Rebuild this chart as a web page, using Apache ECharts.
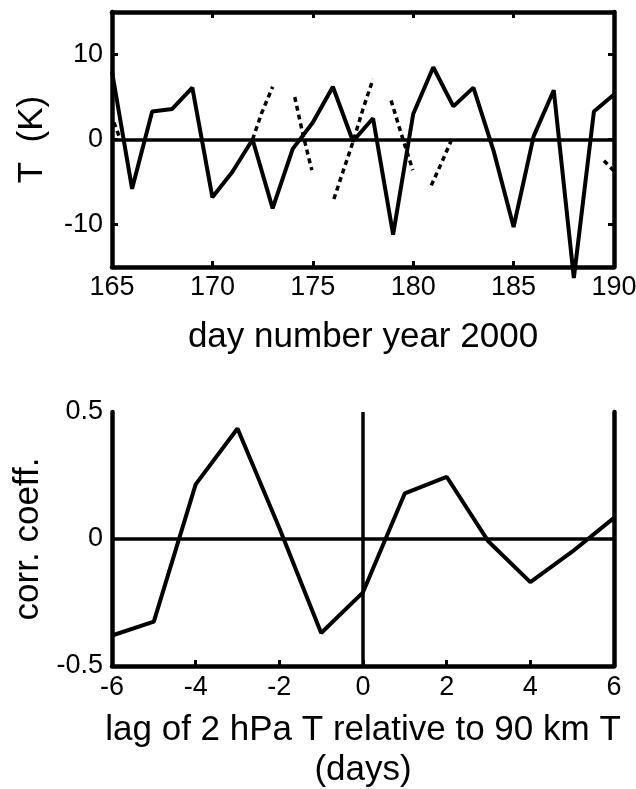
<!DOCTYPE html>
<html>
<head>
<meta charset="utf-8">
<script src="https://cdn.jsdelivr.net/npm/echarts@6/dist/echarts.min.js"></script>
<style>
html,body{margin:0;padding:0;background:#fff;}
#c{width:636px;height:789px;}
</style>
</head>
<body>
<div id="c"></div>
<script>
// ---- Top panel data ----
const days = [165,166,167,168,169,170,171,172,173,174,175,176,177,178,179,180,181,182,183,184,185,186,187,188,189,190];
const tempT = [8.0,-5.8,3.3,3.6,6.1,-6.8,-3.8,0.0,-8.1,-1.1,2.0,6.2,-0.2,2.5,-11.2,3.0,8.5,3.9,6.1,-1.3,-10.3,0.4,5.8,-16.3,3.3,5.3];
// dashed segments (null separates pieces)
const dashDays = [165.1,165.35,null,172.0,172.45,173.0,null,174.1,174.5,174.95,null,176.05,176.5,177.0,177.5,178.0,null,178.9,179.4,179.98,null,180.9,181.4,181.9,null,189.5,190.0];
const dashVals = [2.0,0.4,null,0.0,3.1,6.2,null,5.0,0.7,-3.6,null,-7.0,-3.8,-0.3,3.6,7.1,null,4.6,0.7,-3.6,null,-5.4,-2.8,-0.1,null,-2.5,-3.7];
const topYTicks = [-10,0,10];

// ---- Bottom panel data ----
const lags = [-6,-5,-4,-3,-2,-1,0,1,2,3,4,5,6];
const corr = [-0.38,-0.325,0.215,0.435,0.043,-0.37,-0.21,0.18,0.245,-0.01,-0.17,-0.05,0.083];

const FONT = 'Liberation Sans, Arial, sans-serif';
const black = '#000';

const topSolid = days.map((d,i)=>[d,tempT[i]]);
const topDash = dashDays.map((d,i)=> d===null ? ['-','-'] : [d,dashVals[i]]);
const bottomLine = lags.map((l,i)=>[l,corr[i]]);

const axisLine = {show:true, onZero:false, lineStyle:{color:black,width:4.5}};
const tickIn = {show:true, inside:true, length:6, lineStyle:{color:black,width:3}};
const lbl = {color:black, fontSize:27, fontFamily:FONT};
const titleStyle = {color:black, fontSize:35, fontFamily:FONT};

const chart = echarts.init(document.getElementById('c'), null, {renderer:'canvas'});
chart.setOption({
  animation:false,
  backgroundColor:'#fff',
  grid:[
    {left:112, top:12, width:502, height:255, outerBoundsMode:'none', containLabel:false},
    {left:112, top:412, width:502, height:254, outerBoundsMode:'none', containLabel:false}
  ],
  xAxis:[
    {type:'value', gridIndex:0, min:165, max:190, interval:5, position:'bottom',
     axisLine:axisLine, axisTick:tickIn, splitLine:{show:false},
     axisLabel:Object.assign({margin:7},lbl),
     name:'day number year 2000', nameLocation:'middle', nameGap:53,
     nameTextStyle:titleStyle},
    {type:'value', gridIndex:0, min:165, max:190, interval:5, position:'top',
     axisLine:axisLine, axisTick:tickIn, splitLine:{show:false}, axisLabel:{show:false}},
    {type:'value', gridIndex:1, min:-6, max:6, interval:2, position:'bottom',
     axisLine:axisLine, axisTick:tickIn, splitLine:{show:false},
     axisLabel:Object.assign({margin:8},lbl),
     name:'lag of 2 hPa T relative to 90 km T\n(days)', nameLocation:'middle', nameGap:44,
     nameTextStyle:Object.assign({lineHeight:40, verticalAlign:'top'},titleStyle)},
    {type:'value', gridIndex:1, min:-6, max:6, interval:2, position:'top',
     axisLine:{show:false}, axisTick:{show:false}, splitLine:{show:false}, axisLabel:{show:false}}
  ],
  yAxis:[
    {type:'value', gridIndex:0, min:-15, max:15, interval:5, position:'left',
     axisLine:axisLine,
     axisTick:Object.assign({customValues:topYTicks},tickIn), splitLine:{show:false},
     axisLabel:Object.assign({margin:9, customValues:topYTicks},lbl),
     name:'T  (K)', nameLocation:'middle', nameGap:62,
     nameTextStyle:titleStyle},
    {type:'value', gridIndex:0, min:-15, max:15, interval:5, position:'right',
     axisLine:axisLine,
     axisTick:Object.assign({customValues:topYTicks},tickIn), splitLine:{show:false},
     axisLabel:{show:false}},
    {type:'value', gridIndex:1, min:-0.5, max:0.5, interval:0.5, position:'left',
     axisLine:axisLine, axisTick:{show:false}, splitLine:{show:false},
     axisLabel:Object.assign({margin:9, formatter:v=>String(v)},lbl),
     name:'corr. coeff.', nameLocation:'middle', nameGap:66,
     nameTextStyle:titleStyle},
    {type:'value', gridIndex:1, min:-0.5, max:0.5, interval:0.5, position:'right',
     axisLine:axisLine, axisTick:{show:false}, splitLine:{show:false}, axisLabel:{show:false}}
  ],
  series:[
    {type:'line', xAxisIndex:0, yAxisIndex:0, data:topSolid, symbol:'none', clip:false,
     lineStyle:{color:black, width:4}, z:5,
     markLine:{silent:true, symbol:'none', label:{show:false},
       lineStyle:{color:black, width:3.5, type:'solid'}, data:[{yAxis:0}]}},
    {type:'line', xAxisIndex:0, yAxisIndex:0, data:topDash, symbol:'none', connectNulls:false,
     lineStyle:{color:black, width:3.5, type:[5,4]}, z:4},
    {type:'line', xAxisIndex:2, yAxisIndex:2, data:bottomLine, symbol:'none',
     lineStyle:{color:black, width:4}, z:5,
     markLine:{silent:true, symbol:'none', label:{show:false},
       lineStyle:{color:black, width:3.5, type:'solid'}, data:[{yAxis:0},{xAxis:0}]}}
  ]
});
</script>
</body>
</html>
